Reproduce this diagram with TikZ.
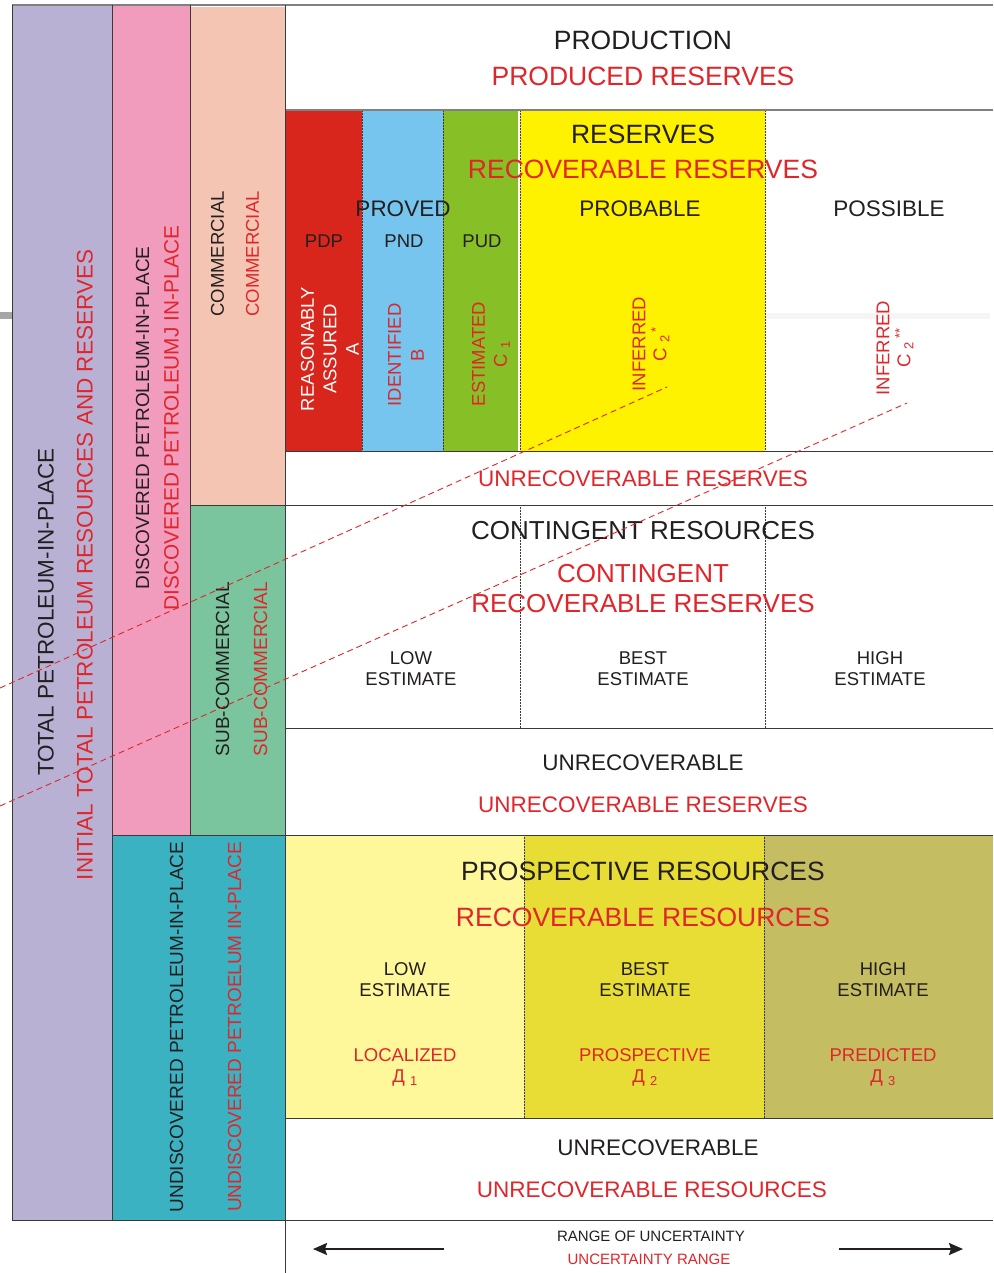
\documentclass[tikz,border=0pt]{standalone}
\usepackage{fontspec}
\setmainfont{Liberation Sans}
\usetikzlibrary{arrows.meta}

\definecolor{totalc}{HTML}{B8B1D4}
\definecolor{discc}{HTML}{F19BBD}
\definecolor{commc}{HTML}{F5C5B3}
\definecolor{subc}{HTML}{7AC49E}
\definecolor{undisc}{HTML}{3BB2C2}
\definecolor{pdpc}{HTML}{D9261C}
\definecolor{pndc}{HTML}{76C5EE}
\definecolor{pudc}{HTML}{86C026}
\definecolor{probc}{HTML}{FFF200}
\definecolor{lowc}{HTML}{FFF89B}
\definecolor{bestc}{HTML}{E8DD35}
\definecolor{highc}{HTML}{C4BD62}
\definecolor{txtred}{HTML}{E0262A}
\definecolor{txtblk}{HTML}{231F20}
\definecolor{rulec}{HTML}{3A3A3A}

\tikzset{
  bigtxt/.style={font=\fontsize{26.5}{30}\selectfont,text=txtblk},
  midtxt/.style={font=\fontsize{22.5}{26}\selectfont,text=txtblk},
  smltxt/.style={font=\fontsize{18.5}{22}\selectfont,text=txtblk,align=center},
  tinytxt/.style={font=\fontsize{15}{17}\selectfont,text=txtblk},
  redtxt/.style={text=txtred},
  vert/.style={rotate=90,align=center},
  divider/.style={draw=rulec,line width=0.8pt},
  sep/.style={draw=rulec,densely dotted,line width=0.5pt},
  cutline/.style={draw=txtred,dash pattern=on 6pt off 4pt,line width=0.9pt},
}

\begin{document}
\begin{tikzpicture}[x=1pt,y=-1pt]
            \useasboundingbox (0,0) rectangle (993,1273);
            \fill[white] (0,0) rectangle (993,1273);
            \fill[totalc] (12,5) rectangle (112,1220);
            \fill[discc] (112,5) rectangle (190,835);
            \fill[commc] (190,7) rectangle (285,505);
            \fill[subc] (190,505) rectangle (285,835);
            \fill[undisc] (112,835) rectangle (285,1220);
            \fill[pdpc] (285,110) rectangle (362,451);
            \fill[pndc] (362,110) rectangle (443,451);
            \fill[pudc] (443,110) rectangle (519,451);
            \fill[probc] (519,110) rectangle (765,451);
            \fill[lowc] (285,835) rectangle (524,1118);
            \fill[bestc] (524,835) rectangle (764,1118);
            \fill[highc] (764,835) rectangle (993,1118);
            \fill[gray!70] (0,312) rectangle (12,319);
            \fill[black!4] (765,313) rectangle (990,319);
            \draw[white,line width=1.5pt] (519,110) -- (519,451);
            \draw[sep] (362,110) -- (362,451);
            \draw[sep] (443,110) -- (443,451);
            \draw[sep] (520,110) -- (520,451);
            \draw[sep] (765,110) -- (765,451);
            \draw[sep] (520,505) -- (520,728);
            \draw[sep] (765,505) -- (765,728);
            \draw[sep] (524,835) -- (524,1118);
            \draw[sep] (764,835) -- (764,1118);
            \draw[draw=gray,line width=1.2pt] (12,5) -- (993,5);
            \draw[draw=gray,line width=1.2pt] (285,110) -- (993,110);
            \draw[divider] (285,451) -- (993,451);
            \draw[divider] (190,505) -- (993,505);
            \draw[divider] (285,728) -- (993,728);
            \draw[divider] (112,835) -- (993,835);
            \draw[divider] (285,1118) -- (993,1118);
            \draw[divider] (12,1220) -- (993,1220);
            \draw[divider] (12,5) -- (12,1220);
            \draw[divider] (112,5) -- (112,1220);
            \draw[divider] (190,5) -- (190,835);
            \draw[divider] (285,5) -- (285,1273);

            \node[vert,midtxt] (tpip) at (46,612) {TOTAL PETROLEUM-IN-PLACE};
            \node[vert,midtxt,redtxt] (itpr) at (85,565) {INITIAL TOTAL PETROLEUM RESOURCES AND RESERVES};
            \node[vert,smltxt,font=\fontsize{19}{22}\selectfont] (dpip) at (142.5,418) {DISCOVERED PETROLEUM-IN-PLACE};
            \node[vert,smltxt,font=\fontsize{20.8}{24}\selectfont,redtxt] (dpipr) at (171.5,418) {DISCOVERED PETROLEUMJ IN-PLACE};
            \node[vert,smltxt] (comm) at (217.5,254) {COMMERCIAL};
            \node[vert,smltxt,redtxt] (commr) at (252.5,254) {COMMERCIAL};
            \node[vert,smltxt,font=\fontsize{19}{22}\selectfont] (subcomm) at (222.5,669) {SUB-COMMERCIAL};
            \node[vert,smltxt,font=\fontsize{19}{22}\selectfont,redtxt] (subcommr) at (260.5,669) {SUB-COMMERCIAL};
            \node[vert,smltxt,font=\fontsize{19}{22}\selectfont] (udpip) at (176.5,1027) {UNDISCOVERED PETROLEUM-IN-PLACE};
            \node[vert,smltxt,font=\fontsize{19}{22}\selectfont,redtxt] (udpipr) at (234.5,1027) {UNDISCOVERED PETROELUM IN-PLACE};

            \node[bigtxt] (prod) at (643,40) {PRODUCTION};
            \node[bigtxt,redtxt] (prodr) at (643,76) {PRODUCED RESERVES};
            \node[bigtxt] (res) at (643,134) {RESERVES};
            \node[bigtxt,redtxt] (resr) at (643,169) {RECOVERABLE RESERVES};
            \node[midtxt] (proved) at (403,209) {PROVED};
            \node[midtxt] (probable) at (640,209) {PROBABLE};
            \node[midtxt] (possible) at (889,209) {POSSIBLE};
            \node[smltxt] (pdp) at (324,241) {PDP};
            \node[smltxt] (pnd) at (404,241) {PND};
            \node[smltxt] (pud) at (482,241) {PUD};
            \node[vert,smltxt,text=white,font=\fontsize{18.5}{22.5}\selectfont] (assured) at (330,349) {REASONABLY\\ASSURED\\A};
            \node[vert,smltxt,redtxt,font=\fontsize{18.5}{23}\selectfont] (ident) at (406,355) {IDENTIFIED\\B};
            \node[vert,smltxt,redtxt,font=\fontsize{18.5}{22}\selectfont] (estim) at (491,354) {ESTIMATED\\C\,\textsubscript{\,1}};
            \node[vert,smltxt,redtxt,font=\fontsize{18.5}{21}\selectfont] (infer) at (651,344) {INFERRED\\C\,\textsubscript{\,2}\,\textsuperscript{*}};
            \node[vert,smltxt,redtxt,font=\fontsize{18.5}{21}\selectfont] (inferb) at (895,348) {INFERRED\\C\,\textsubscript{\,2}\,\textsuperscript{**}};

            \node[midtxt,redtxt] (unres) at (643,479) {UNRECOVERABLE RESERVES};
            \node[bigtxt,font=\fontsize{26}{30}\selectfont] (cont) at (643,531) {CONTINGENT RESOURCES};
            \node[bigtxt,font=\fontsize{26}{30}\selectfont,redtxt] (contr) at (643,574) {CONTINGENT};
            \node[bigtxt,font=\fontsize{26}{30}\selectfont,redtxt] (contrr) at (643,604) {RECOVERABLE RESERVES};
            \node[smltxt,font=\fontsize{18.5}{21}\selectfont] (clow) at (411,669) {LOW\\ESTIMATE};
            \node[smltxt,font=\fontsize{18.5}{21}\selectfont] (cbest) at (643,669) {BEST\\ESTIMATE};
            \node[smltxt,font=\fontsize{18.5}{21}\selectfont] (chigh) at (880,669) {HIGH\\ESTIMATE};
            \node[midtxt] (unrec) at (643,763) {UNRECOVERABLE};
            \node[midtxt,redtxt] (unrecr) at (643,805) {UNRECOVERABLE RESERVES};

            \node[bigtxt] (prosp) at (643,871) {PROSPECTIVE RESOURCES};
            \node[bigtxt,redtxt] (prospr) at (643,917) {RECOVERABLE RESOURCES};
            \node[smltxt,font=\fontsize{18.5}{21}\selectfont] (plow) at (405,980) {LOW\\ESTIMATE};
            \node[smltxt,font=\fontsize{18.5}{21}\selectfont] (pbest) at (645,980) {BEST\\ESTIMATE};
            \node[smltxt,font=\fontsize{18.5}{21}\selectfont] (phigh) at (883,980) {HIGH\\ESTIMATE};
            \node[smltxt,font=\fontsize{18.5}{21}\selectfont,redtxt] (local) at (405,1067) {LOCALIZED\\Д\,\textsubscript{\,1}};
            \node[smltxt,font=\fontsize{18.5}{21}\selectfont,redtxt] (prospd) at (645,1067) {PROSPECTIVE\\Д\,\textsubscript{\,2}};
            \node[smltxt,font=\fontsize{18.5}{21}\selectfont,redtxt] (pred) at (883,1067) {PREDICTED\\Д\,\textsubscript{\,3}};
            \node[midtxt] (unrecb) at (658,1148) {UNRECOVERABLE};
            \node[midtxt,redtxt] (unrecbr) at (652,1190) {UNRECOVERABLE RESOURCES};

            \node[tinytxt] (range) at (651,1236) {RANGE OF UNCERTAINTY};
            \node[tinytxt,redtxt] (ranger) at (649,1259) {UNCERTAINTY RANGE};
            \coordinate (la) at (444,1249);
            \coordinate (lb) at (313,1249);
            \coordinate (ra) at (839,1249);
            \coordinate (rb) at (963,1249);
            \draw[-{Stealth[length=14pt,width=12pt,inset=2pt]},line width=2pt,txtblk] (la) -- (lb);
            \draw[-{Stealth[length=14pt,width=12pt,inset=2pt]},line width=2pt,txtblk] (ra) -- (rb);

            \coordinate (cuta) at (0,688);
            \coordinate (cutb) at (667,387);
            \coordinate (cutc) at (0,806);
            \coordinate (cutd) at (907,403);
            \draw[cutline] (cuta) -- (cutb);
            \draw[cutline] (cutc) -- (cutd);
        \end{tikzpicture}
\end{document}
